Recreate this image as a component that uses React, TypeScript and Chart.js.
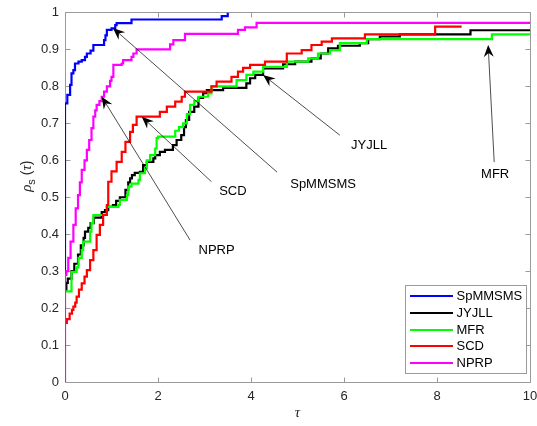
import React, { useEffect, useRef } from "react";
import { Chart, registerables } from "chart.js";

Chart.register(...registerables);

const seriesNames = ["SpMMSMS", "JYJLL", "MFR", "SCD", "NPRP"];
const seriesColors = ["#0000FF", "#000000", "#00FF00", "#FF0000", "#FF00FF"];

const spTau = [0, 0, 0.05, 0.11, 0.14, 0.18, 0.215, 0.29, 0.36, 0.43, 0.47, 0.55, 0.61, 0.84, 0.87, 0.9, 1.0, 1.08, 1.11, 1.43, 3.37, 3.5];
const spRho = [0.29, 0.754, 0.777, 0.804, 0.835, 0.844, 0.862, 0.867, 0.871, 0.88, 0.889, 0.897, 0.912, 0.925, 0.938, 0.953, 0.957, 0.966, 0.971, 0.981, 0.99, 1.0];

const jyTau = [0, 0.03, 0.06, 0.14, 0.2, 0.28, 0.34, 0.4, 0.43, 0.5, 0.55, 0.62, 0.79, 0.86, 0.93, 1.03, 1.1, 1.18, 1.3, 1.36, 1.4, 1.44, 1.5, 1.61, 1.68, 1.76, 1.9, 1.94, 2.04, 2.15, 2.32, 2.4, 2.5, 2.56, 2.6, 2.67, 2.78, 2.87, 2.97, 3.05, 3.4, 3.9, 3.98, 4.09, 4.26, 4.69, 4.95, 5.3, 5.5, 5.66, 5.87, 6.34, 6.52, 6.77, 7.2, 8.72, 10];
const jyRho = [0.25, 0.268, 0.28, 0.3, 0.32, 0.345, 0.37, 0.39, 0.407, 0.417, 0.43, 0.445, 0.46, 0.465, 0.474, 0.479, 0.49, 0.5, 0.52, 0.54, 0.551, 0.56, 0.566, 0.569, 0.587, 0.596, 0.605, 0.614, 0.623, 0.628, 0.641, 0.655, 0.668, 0.69, 0.709, 0.731, 0.745, 0.769, 0.782, 0.79, 0.796, 0.808, 0.822, 0.831, 0.849, 0.86, 0.867, 0.876, 0.889, 0.903, 0.91, 0.917, 0.928, 0.935, 0.941, 0.952, 0.952];

const mfTau = [0, 0.03, 0.14, 0.25, 0.29, 0.36, 0.39, 0.54, 0.57, 0.61, 0.9, 1.15, 1.18, 1.33, 1.36, 1.43, 1.58, 1.61, 1.72, 1.76, 1.83, 1.94, 1.97, 2.0, 2.37, 2.45, 2.54, 2.62, 2.69, 2.78, 2.87, 3.08, 3.15, 3.69, 3.9, 4.05, 4.26, 4.77, 5.23, 5.44, 5.7, 5.91, 6.49, 9.18, 10];
const mfRho = [0.245, 0.245, 0.298, 0.31, 0.336, 0.357, 0.38, 0.407, 0.43, 0.452, 0.474, 0.479, 0.493, 0.506, 0.529, 0.537, 0.547, 0.565, 0.578, 0.6, 0.614, 0.632, 0.66, 0.664, 0.68, 0.69, 0.7, 0.725, 0.75, 0.76, 0.772, 0.781, 0.8, 0.817, 0.831, 0.84, 0.853, 0.867, 0.876, 0.889, 0.898, 0.917, 0.928, 0.941, 0.941];

const scTau = [0, 0.04, 0.1, 0.15, 0.18, 0.22, 0.25, 0.3, 0.36, 0.42, 0.47, 0.54, 0.61, 0.68, 0.75, 0.82, 0.9, 0.93, 1.0, 1.11, 1.22, 1.3, 1.4, 1.46, 1.54, 2.04, 2.19, 2.37, 2.51, 2.58, 3.15, 3.26, 3.58, 3.72, 3.83, 3.98, 4.3, 4.77, 5.09, 5.3, 5.52, 5.74, 6.45, 7.96, 8.53];
const scRho = [0.16, 0.17, 0.185, 0.195, 0.204, 0.215, 0.231, 0.25, 0.267, 0.285, 0.303, 0.33, 0.357, 0.398, 0.425, 0.452, 0.479, 0.542, 0.57, 0.596, 0.623, 0.65, 0.677, 0.696, 0.718, 0.731, 0.745, 0.759, 0.772, 0.786, 0.8, 0.813, 0.826, 0.84, 0.85, 0.858, 0.867, 0.889, 0.898, 0.912, 0.921, 0.93, 0.941, 0.962, 0.962];

const npTau = [0, 0, 0.03, 0.07, 0.12, 0.18, 0.23, 0.28, 0.32, 0.36, 0.42, 0.47, 0.52, 0.57, 0.61, 0.65, 0.68, 0.74, 0.79, 0.84, 0.9, 0.97, 1.0, 1.04, 1.22, 1.25, 1.43, 1.47, 1.54, 2.26, 2.33, 2.58, 3.72, 3.87, 4.12, 10];
const npRho = [0, 0.29, 0.3, 0.336, 0.38, 0.425, 0.47, 0.506, 0.54, 0.574, 0.6, 0.628, 0.655, 0.687, 0.718, 0.735, 0.75, 0.76, 0.772, 0.786, 0.8, 0.815, 0.826, 0.858, 0.862, 0.871, 0.88, 0.889, 0.9, 0.914, 0.925, 0.942, 0.953, 0.96, 0.972, 0.972];

const seriesTau = [spTau, jyTau, mfTau, scTau, npTau];
const seriesRho = [spRho, jyRho, mfRho, scRho, npRho];

const xTicks = [0, 2, 4, 6, 8, 10];
const yTicks = [0, 0.1, 0.2, 0.3, 0.4, 0.5, 0.6, 0.7, 0.8, 0.9, 1];

const annText = ["SpMMSMS", "SCD", "NPRP", "JYJLL", "MFR"];
const annTipTau = [1.03, 1.65, 0.79, 4.26, 9.1];
const annTipRho = [0.958, 0.718, 0.772, 0.831, 0.912];
const annTailTau = [4.56, 3.15, 2.69, 5.91, 9.23];
const annTailRho = [0.568, 0.542, 0.384, 0.668, 0.595];
const annTextTau = [5.55, 3.61, 3.26, 6.54, 9.25];
const annTextRho = [0.536, 0.515, 0.357, 0.641, 0.563];

const FONT = '"Liberation Sans", Arial, Helvetica, sans-serif';
const AXIS_COLOR = "#9a9a9a";
const TEXT_COLOR = "#262626";

const decorPlugin = {
  id: "decor",
  beforeDatasetsDraw(chart: any) {
    const { ctx, chartArea: a, scales } = chart;
    const x = scales.x;
    const y = scales.y;
    ctx.save();
    ctx.strokeStyle = AXIS_COLOR;
    ctx.lineWidth = 1;
    const L = Math.floor(a.left) + 0.5;
    const R = Math.floor(a.right) + 0.5;
    const T = Math.floor(a.top) + 0.5;
    const B = Math.floor(a.bottom) + 0.5;
    ctx.beginPath();
    ctx.rect(L, T, R - L, B - T);
    ctx.stroke();
    const tl = 5;
    ctx.beginPath();
    for (const t of xTicks) {
      const px = Math.floor(x.getPixelForValue(t)) + 0.5;
      ctx.moveTo(px, B);
      ctx.lineTo(px, B - tl);
      ctx.moveTo(px, T);
      ctx.lineTo(px, T + tl);
    }
    for (const t of yTicks) {
      const py = Math.floor(y.getPixelForValue(t)) + 0.5;
      ctx.moveTo(L, py);
      ctx.lineTo(L + tl, py);
      ctx.moveTo(R, py);
      ctx.lineTo(R - tl, py);
    }
    ctx.stroke();
    ctx.restore();
  },
  afterDatasetsDraw(chart: any) {
    const { ctx, chartArea: a, scales } = chart;
    const x = scales.x;
    const y = scales.y;
    ctx.save();
    for (let i = 0; i < annText.length; i++) {
      const tx = x.getPixelForValue(annTipTau[i]);
      const ty = y.getPixelForValue(annTipRho[i]);
      const sx = x.getPixelForValue(annTailTau[i]);
      const sy = y.getPixelForValue(annTailRho[i]);
      const ang = Math.atan2(ty - sy, tx - sx);
      const headLen = 12;
      const headW = 5;
      const notch = 8;
      const bx = tx - Math.cos(ang) * notch;
      const by = ty - Math.sin(ang) * notch;
      ctx.strokeStyle = "#000";
      ctx.lineWidth = 0.7;
      ctx.beginPath();
      ctx.moveTo(sx, sy);
      ctx.lineTo(bx, by);
      ctx.stroke();
      const cx = tx - Math.cos(ang) * headLen;
      const cy = ty - Math.sin(ang) * headLen;
      const nx = -Math.sin(ang) * headW;
      const ny = Math.cos(ang) * headW;
      ctx.fillStyle = "#000";
      ctx.beginPath();
      ctx.moveTo(tx, ty);
      ctx.lineTo(cx + nx, cy + ny);
      ctx.lineTo(bx, by);
      ctx.lineTo(cx - nx, cy - ny);
      ctx.closePath();
      ctx.fill();
      ctx.font = `13px ${FONT}`;
      ctx.fillStyle = "#000";
      ctx.textAlign = "center";
      ctx.textBaseline = "middle";
      ctx.fillText(annText[i], x.getPixelForValue(annTextTau[i]), y.getPixelForValue(annTextRho[i]));
    }
    const lw = 121;
    const lh = 88;
    const lx = Math.floor(a.right - 3.5 - lw) + 0.5;
    const ly = Math.floor(a.bottom - 9 - lh) + 0.5;
    ctx.fillStyle = "#fff";
    ctx.fillRect(lx, ly, lw, lh);
    ctx.strokeStyle = AXIS_COLOR;
    ctx.lineWidth = 1;
    ctx.strokeRect(lx, ly, lw, lh);
    ctx.font = `13px ${FONT}`;
    ctx.textAlign = "left";
    ctx.textBaseline = "middle";
    for (let i = 0; i < seriesNames.length; i++) {
      const ry = Math.round(ly + 10.5 + i * 16.8);
      ctx.strokeStyle = seriesColors[i];
      ctx.lineWidth = 2;
      ctx.beginPath();
      ctx.moveTo(lx + 4.5, ry);
      ctx.lineTo(lx + 47.5, ry);
      ctx.stroke();
      ctx.fillStyle = "#000";
      ctx.fillText(seriesNames[i], lx + 51, ry + 0.5);
    }
    ctx.restore();
  },
  afterDraw(chart: any) {
    const { ctx, chartArea: a } = chart;
    ctx.save();
    ctx.fillStyle = TEXT_COLOR;
    ctx.font = 'italic 15px "Liberation Serif", "DejaVu Serif", serif';
    ctx.textAlign = "center";
    ctx.textBaseline = "alphabetic";
    ctx.fillText("τ", (a.left + a.right) / 2, a.bottom + 35);
    const cy = a.top + (a.bottom - a.top) * 0.443;
    ctx.translate(31, cy);
    ctx.rotate(-Math.PI / 2);
    const fRho = 'italic 15px "Liberation Serif", "DejaVu Serif", serif';
    const fSub = `11px ${FONT}`;
    const fPar = `14px ${FONT}`;
    const fTau = 'italic 15px "Liberation Serif", "DejaVu Serif", serif';
    const parts: [string, string, number][] = [
      ["ρ", fRho, 0],
      ["s", fSub, 4],
      [" (", fPar, 0],
      ["τ", fTau, 0],
      [")", fPar, 0],
    ];
    let total = 0;
    for (const [t, f] of parts) {
      ctx.font = f;
      total += ctx.measureText(t).width;
    }
    let pos = -total / 2;
    ctx.textAlign = "left";
    for (const [t, f, dy] of parts) {
      ctx.font = f;
      ctx.fillText(t, pos, dy);
      pos += ctx.measureText(t).width;
    }
    ctx.restore();
  },
};

export default function App() {
  const ref = useRef<HTMLCanvasElement | null>(null);
  useEffect(() => {
    document.body.style.margin = "0";
    const canvas = ref.current;
    if (!canvas) return;
    const datasets = seriesNames.map((name, i) => ({
      label: name,
      data: seriesTau[i].map((t, k) => ({ x: t, y: seriesRho[i][k] })),
      borderColor: seriesColors[i],
      backgroundColor: seriesColors[i],
      borderWidth: 2.2,
      pointRadius: 0,
      stepped: true as const,
      fill: false,
      borderJoinStyle: "miter" as const,
      borderCapStyle: "butt" as const,
      order: seriesNames.length - i,
    }));
    const chart = new Chart(canvas, {
      type: "line",
      data: { datasets },
      options: {
        animation: false,
        responsive: false,
        maintainAspectRatio: false,
        parsing: false,
        normalized: true,
        events: [],
        layout: { padding: { left: 0, right: 7, top: 12.5, bottom: 0 } },
        plugins: { legend: { display: false }, tooltip: { enabled: false }, title: { display: false } },
        scales: {
          x: {
            type: "linear",
            min: 0,
            max: 10,
            afterFit: (s: any) => {
              s.height = 44;
              s.paddingRight = 0;
              s.paddingLeft = 0;
            },
            grid: { display: false, drawTicks: false },
            border: { display: false },
            ticks: {
              stepSize: 2,
              padding: 7,
              color: TEXT_COLOR,
              font: { family: FONT, size: 13 },
              maxRotation: 0,
              autoSkip: false,
            },
          },
          y: {
            type: "linear",
            min: 0,
            max: 1,
            afterFit: (s: any) => {
              s.width = 65;
              s.paddingTop = 0;
              s.paddingBottom = 0;
            },
            grid: { display: false, drawTicks: false },
            border: { display: false },
            ticks: {
              stepSize: 0.1,
              padding: 6,
              color: TEXT_COLOR,
              font: { family: FONT, size: 13 },
              autoSkip: false,
              callback: (v: any) => String(Math.round(Number(v) * 10) / 10),
            },
          },
        },
      },
      plugins: [decorPlugin],
    } as any);
    return () => chart.destroy();
  }, []);
  return (
    <div style={{ position: "absolute", left: 0, top: 0, width: 537, height: 426 }}>
      <canvas ref={ref} width={537} height={426} style={{ display: "block" }} />
    </div>
  );
}
